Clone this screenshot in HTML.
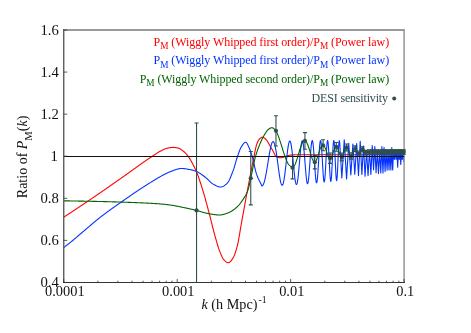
<!DOCTYPE html>
<html><head><meta charset="utf-8"><title>plot</title>
<style>
html,body{margin:0;padding:0;background:#fff;width:471px;height:333px;overflow:hidden;}
svg{display:block;font-family:"Liberation Serif",serif;will-change:transform;}
</style></head><body>
<svg width="471" height="333" viewBox="0 0 471 333">
<rect width="471" height="333" fill="#fff"/>
<defs><clipPath id="c"><rect x="63.75" y="30.0" width="340.35" height="252.45"/></clipPath><clipPath id="d"><rect x="63.75" y="30.0" width="343.35" height="252.45"/></clipPath></defs>
<g clip-path="url(#c)" fill="none" stroke-linejoin="round" stroke-linecap="round">
<path d="M63.75 217.20 L64.25 216.87 L64.75 216.54 L65.25 216.21 L65.75 215.88 L66.25 215.55 L66.75 215.22 L67.25 214.89 L67.75 214.56 L68.25 214.23 L68.75 213.90 L69.25 213.57 L69.75 213.25 L70.25 212.92 L70.75 212.59 L71.25 212.26 L71.75 211.93 L72.25 211.60 L72.75 211.27 L73.25 210.94 L73.75 210.61 L74.25 210.28 L74.75 209.95 L75.25 209.62 L75.75 209.29 L76.25 208.96 L76.75 208.63 L77.25 208.30 L77.75 207.97 L78.25 207.64 L78.75 207.31 L79.25 206.98 L79.75 206.65 L80.25 206.32 L80.75 205.99 L81.25 205.65 L81.75 205.32 L82.25 204.99 L82.75 204.66 L83.25 204.32 L83.75 203.99 L84.25 203.65 L84.75 203.32 L85.25 202.98 L85.75 202.65 L86.25 202.31 L86.75 201.97 L87.25 201.64 L87.75 201.30 L88.25 200.96 L88.75 200.62 L89.25 200.28 L89.75 199.94 L90.25 199.60 L90.75 199.26 L91.25 198.92 L91.75 198.58 L92.25 198.24 L92.75 197.90 L93.25 197.56 L93.75 197.22 L94.25 196.87 L94.75 196.53 L95.25 196.19 L95.75 195.85 L96.25 195.50 L96.75 195.16 L97.25 194.82 L97.75 194.47 L98.25 194.13 L98.75 193.78 L99.25 193.44 L99.75 193.09 L100.25 192.75 L100.75 192.40 L101.25 192.06 L101.75 191.71 L102.25 191.36 L102.75 191.02 L103.25 190.67 L103.75 190.33 L104.25 189.98 L104.75 189.63 L105.25 189.28 L105.75 188.94 L106.25 188.59 L106.75 188.24 L107.25 187.89 L107.75 187.55 L108.25 187.20 L108.75 186.85 L109.25 186.50 L109.75 186.15 L110.25 185.81 L110.75 185.46 L111.25 185.11 L111.75 184.76 L112.25 184.41 L112.75 184.06 L113.25 183.71 L113.75 183.36 L114.25 183.02 L114.75 182.67 L115.25 182.32 L115.75 181.97 L116.25 181.62 L116.75 181.27 L117.25 180.92 L117.75 180.57 L118.25 180.22 L118.75 179.87 L119.25 179.52 L119.75 179.17 L120.25 178.83 L120.75 178.48 L121.25 178.12 L121.75 177.77 L122.25 177.42 L122.75 177.07 L123.25 176.71 L123.75 176.36 L124.25 176.00 L124.75 175.64 L125.25 175.29 L125.75 174.93 L126.25 174.57 L126.75 174.21 L127.25 173.86 L127.75 173.50 L128.25 173.14 L128.75 172.78 L129.25 172.42 L129.75 172.06 L130.25 171.70 L130.75 171.34 L131.25 170.97 L131.75 170.61 L132.25 170.25 L132.75 169.89 L133.25 169.53 L133.75 169.17 L134.25 168.81 L134.75 168.45 L135.25 168.09 L135.75 167.73 L136.25 167.37 L136.75 167.01 L137.25 166.65 L137.75 166.29 L138.25 165.94 L138.75 165.58 L139.25 165.22 L139.75 164.87 L140.25 164.51 L140.75 164.16 L141.25 163.80 L141.75 163.45 L142.25 163.10 L142.75 162.74 L143.25 162.39 L143.75 162.04 L144.25 161.69 L144.75 161.35 L145.25 161.00 L145.75 160.65 L146.25 160.31 L146.75 159.97 L147.25 159.62 L147.75 159.28 L148.25 158.94 L148.75 158.60 L149.25 158.27 L149.75 157.93 L150.25 157.60 L150.75 157.26 L151.25 156.93 L151.75 156.60 L152.25 156.27 L152.75 155.94 L153.25 155.60 L153.75 155.27 L154.25 154.94 L154.75 154.60 L155.25 154.28 L155.75 153.95 L156.25 153.63 L156.75 153.31 L157.25 153.00 L157.75 152.69 L158.25 152.39 L158.75 152.09 L159.25 151.81 L159.75 151.53 L160.25 151.27 L160.75 151.00 L161.25 150.73 L161.75 150.46 L162.25 150.20 L162.75 149.95 L163.25 149.70 L163.75 149.47 L164.25 149.24 L164.75 149.04 L165.25 148.85 L165.75 148.68 L166.25 148.53 L166.75 148.38 L167.25 148.25 L167.75 148.12 L168.25 148.01 L168.75 147.90 L169.25 147.81 L169.75 147.73 L170.25 147.67 L170.75 147.61 L171.25 147.55 L171.75 147.49 L172.25 147.45 L172.75 147.42 L173.25 147.40 L173.75 147.41 L174.25 147.43 L174.75 147.47 L175.25 147.53 L175.75 147.60 L176.25 147.67 L176.75 147.76 L177.25 147.85 L177.75 147.98 L178.25 148.14 L178.75 148.34 L179.25 148.55 L179.75 148.78 L180.25 149.02 L180.75 149.30 L181.25 149.61 L181.75 149.95 L182.25 150.32 L182.75 150.70 L183.25 151.11 L183.75 151.54 L184.25 151.98 L184.75 152.43 L185.25 152.91 L185.75 153.42 L186.25 153.97 L186.75 154.54 L187.25 155.15 L187.75 155.78 L188.25 156.43 L188.75 157.13 L189.25 157.87 L189.75 158.66 L190.25 159.48 L190.75 160.34 L191.25 161.22 L191.75 162.12 L192.25 163.04 L192.75 163.96 L193.25 164.91 L193.75 165.88 L194.25 166.87 L194.75 167.90 L195.25 168.96 L195.75 170.07 L196.25 171.21 L196.75 172.41 L197.25 173.67 L197.75 175.00 L198.25 176.38 L198.75 177.81 L199.25 179.27 L199.75 180.75 L200.25 182.25 L200.75 183.76 L201.25 185.30 L201.75 186.87 L202.25 188.48 L202.75 190.11 L203.25 191.78 L203.75 193.46 L204.25 195.17 L204.75 196.91 L205.25 198.68 L205.75 200.49 L206.25 202.31 L206.75 204.16 L207.25 206.02 L207.75 207.90 L208.25 209.79 L208.75 211.68 L209.25 213.57 L209.75 215.50 L210.25 217.47 L210.75 219.46 L211.25 221.47 L211.75 223.49 L212.25 225.51 L212.75 227.50 L213.25 229.47 L213.75 231.41 L214.25 233.29 L214.75 235.11 L215.25 236.88 L215.75 238.64 L216.25 240.39 L216.75 242.13 L217.25 243.83 L217.75 245.49 L218.25 247.08 L218.75 248.61 L219.25 250.04 L219.75 251.37 L220.25 252.61 L220.75 253.84 L221.25 255.05 L221.75 256.20 L222.25 257.28 L222.75 258.25 L223.25 259.08 L223.75 259.74 L224.25 260.23 L224.75 260.69 L225.25 261.12 L225.75 261.52 L226.25 261.87 L226.75 262.18 L227.25 262.42 L227.75 262.60 L228.25 262.69 L228.75 262.68 L229.25 262.51 L229.75 262.20 L230.25 261.76 L230.75 261.21 L231.25 260.58 L231.75 259.88 L232.25 259.14 L232.75 258.38 L233.25 257.59 L233.75 256.64 L234.25 255.51 L234.75 254.23 L235.25 252.81 L235.75 251.27 L236.25 249.62 L236.75 247.89 L237.25 246.06 L237.75 243.93 L238.25 241.52 L238.75 238.89 L239.25 236.09 L239.75 233.17 L240.25 230.19 L240.75 227.19 L241.25 224.24 L241.75 221.38 L242.25 218.64 L242.75 215.91 L243.25 213.17 L243.75 210.42 L244.25 207.67 L244.75 204.92 L245.25 202.17 L245.75 199.43 L246.25 196.71 L246.75 194.01 L247.25 191.33 L247.75 188.67 L248.25 186.02 L248.75 183.37 L249.25 180.73 L249.75 178.09 L250.25 175.47 L250.75 172.86 L251.25 170.27 L251.75 167.70 L252.25 165.16 L252.75 162.64 L253.25 160.16 L253.75 157.71 L254.25 155.27 L254.75 152.69 L255.25 150.13 L255.75 147.76 L256.25 145.78 L256.75 144.31 L257.25 143.00 L257.75 141.82 L258.25 140.79 L258.75 139.93 L259.25 139.26 L259.75 138.77 L260.25 138.33 L260.75 137.93 L261.25 137.60 L261.75 137.35 L262.25 137.22 L262.75 137.22 L263.25 137.35 L263.75 137.59 L264.25 137.93 L264.75 138.33 L265.25 138.78 L265.75 139.26 L266.25 139.75 L266.75 140.30 L267.25 140.98 L267.75 141.78 L268.25 142.64 L268.75 143.55 L269.25 144.47 L269.75 145.37 L270.25 146.22 L270.75 147.08 L271.25 147.95 L271.75 148.83 L272.25 149.72 L272.75 150.62 L273.25 151.51 L273.75 152.41 L274.25 153.40 L274.75 154.52 L275.25 155.55 L275.75 156.30 L276.25 156.63 L276.75 156.88 L277.25 157.10 L277.75 157.29 L278.25 157.46 L278.75 157.59 L279.25 157.69 L279.75 157.76 L280.25 157.80 L280.75 157.79 L281.25 157.74 L281.75 157.65 L282.25 157.52 L282.75 157.37 L283.25 157.20 L283.75 157.02 L284.25 156.84 L284.75 156.68 L285.25 156.52 L285.75 156.35 L286.25 156.17 L286.75 155.99 L287.25 155.82 L287.75 155.67 L288.25 155.54 L288.75 155.41 L289.25 155.29 L289.75 155.18 L290.25 155.09 L290.75 155.02 L291.25 154.98 L291.75 154.94 L292.25 154.90 L292.75 154.87 L293.25 154.85 L293.75 154.82 L294.25 154.81 L294.75 154.80 L295.25 154.80 L295.75 154.80 L296.25 154.80 L296.75 154.80 L297.25 154.80 L297.75 154.80 L298.25 154.80 L298.75 154.80 L299.25 154.80 L299.75 154.80 L300.25 154.80 L300.75 154.80 L301.25 154.80 L301.75 154.80 L302.25 154.80 L302.75 154.80 L303.25 154.80 L303.75 154.80 L304.25 154.80 L304.75 154.80 L305.25 154.80 L305.75 154.80 L306.25 154.80 L306.75 154.80 L307.25 154.80 L307.75 154.80 L308.25 154.80 L308.75 154.80 L309.25 154.80 L309.75 154.80 L310.25 154.80 L310.75 154.80 L311.25 154.80 L311.75 154.80 L312.25 154.80 L312.75 154.80 L313.25 154.80 L313.75 154.80 L314.25 154.80 L314.75 154.80 L315.25 154.80 L315.75 154.80 L316.25 154.80 L316.75 154.80 L317.25 154.80 L317.75 154.80 L318.25 154.80 L318.75 154.80 L319.25 154.80 L319.75 154.80 L320.25 154.80 L320.75 154.80 L321.25 154.80 L321.75 154.80 L322.25 154.80 L322.75 154.80 L323.25 154.80 L323.75 154.80 L324.25 154.80 L324.75 154.80 L325.25 154.80 L325.75 154.80 L326.25 154.80 L326.75 154.80 L327.25 154.80 L327.75 154.80 L328.25 154.80 L328.75 154.80 L329.25 154.80 L329.75 154.80 L330.25 154.80 L330.75 154.80 L331.25 154.80 L331.75 154.80 L332.25 154.80 L332.75 154.80 L333.25 154.80 L333.75 154.80 L334.25 154.80 L334.75 154.80 L335.25 154.80 L335.75 154.80 L336.25 154.80 L336.75 154.80 L337.25 154.80 L337.75 154.80 L338.25 154.80 L338.75 154.80 L339.25 154.80 L339.75 154.80 L340.25 154.80 L340.75 154.80 L341.25 154.80 L341.75 154.80 L342.25 154.80 L342.75 154.80 L343.25 154.80 L343.75 154.80 L344.25 154.80 L344.75 154.80 L345.25 154.80 L345.75 154.80 L346.25 154.80 L346.75 154.80 L347.25 154.80 L347.75 154.80 L348.25 154.80 L348.75 154.80 L349.25 154.80 L349.75 154.80 L350.25 154.80 L350.75 154.80 L351.25 154.80 L351.75 154.80 L352.25 154.80 L352.75 154.80 L353.25 154.80 L353.75 154.80 L354.25 154.80 L354.75 154.80 L355.25 154.80 L355.75 154.80 L356.25 154.80 L356.75 154.80 L357.25 154.80 L357.75 154.80 L358.25 154.80 L358.75 154.80 L359.25 154.80 L359.75 154.80 L360.25 154.80 L360.75 154.80 L361.25 154.80 L361.75 154.80 L362.25 154.80 L362.75 154.80 L363.25 154.80 L363.75 154.80 L364.25 154.80 L364.75 154.80 L365.25 154.80 L365.75 154.80 L366.25 154.80 L366.75 154.80 L367.25 154.80 L367.75 154.80 L368.25 154.80 L368.75 154.80 L369.25 154.80 L369.75 154.80 L370.25 154.80 L370.75 154.80 L371.25 154.80 L371.75 154.80 L372.25 154.80 L372.75 154.80 L373.25 154.80 L373.75 154.80 L374.25 154.80 L374.75 154.80 L375.25 154.80 L375.75 154.80 L376.25 154.80 L376.75 154.80 L377.25 154.80 L377.75 154.80 L378.25 154.80 L378.75 154.80 L379.25 154.80 L379.75 154.80 L380.25 154.80 L380.75 154.80 L381.25 154.80 L381.75 154.80 L382.25 154.80 L382.75 154.80 L383.25 154.80 L383.75 154.80 L384.25 154.80 L384.75 154.80 L385.25 154.80 L385.75 154.80 L386.25 154.80 L386.75 154.80 L387.25 154.80 L387.75 154.80 L388.25 154.80 L388.75 154.80 L389.25 154.80 L389.75 154.80 L390.25 154.80 L390.75 154.80 L391.25 154.80 L391.75 154.80 L392.25 154.80 L392.75 154.80 L393.25 154.80 L393.75 154.80 L394.25 154.80 L394.75 154.80 L395.25 154.80 L395.75 154.80 L396.25 154.80 L396.75 154.80 L397.25 154.80 L397.75 154.80 L398.25 154.80 L398.75 154.80 L399.25 154.80 L399.75 154.80 L400.25 154.80 L400.75 154.80 L401.25 154.80 L401.75 154.80 L402.25 154.80 L402.75 154.80 L403.25 154.80 L403.75 154.80" stroke="#ff0000" stroke-width="1.1"/>
<path d="M63.75 247.61 L64.25 247.22 L64.75 246.83 L65.25 246.44 L65.75 246.05 L66.25 245.66 L66.75 245.27 L67.25 244.88 L67.75 244.49 L68.25 244.10 L68.75 243.70 L69.25 243.31 L69.75 242.91 L70.25 242.50 L70.75 242.10 L71.25 241.69 L71.75 241.28 L72.25 240.86 L72.75 240.45 L73.25 240.03 L73.75 239.61 L74.25 239.19 L74.75 238.77 L75.25 238.35 L75.75 237.92 L76.25 237.50 L76.75 237.07 L77.25 236.64 L77.75 236.22 L78.25 235.79 L78.75 235.36 L79.25 234.93 L79.75 234.50 L80.25 234.07 L80.75 233.64 L81.25 233.21 L81.75 232.79 L82.25 232.36 L82.75 231.93 L83.25 231.50 L83.75 231.08 L84.25 230.65 L84.75 230.23 L85.25 229.81 L85.75 229.39 L86.25 228.97 L86.75 228.55 L87.25 228.12 L87.75 227.70 L88.25 227.27 L88.75 226.85 L89.25 226.42 L89.75 226.00 L90.25 225.57 L90.75 225.14 L91.25 224.72 L91.75 224.29 L92.25 223.87 L92.75 223.44 L93.25 223.02 L93.75 222.60 L94.25 222.18 L94.75 221.76 L95.25 221.34 L95.75 220.93 L96.25 220.51 L96.75 220.10 L97.25 219.69 L97.75 219.29 L98.25 218.88 L98.75 218.48 L99.25 218.08 L99.75 217.69 L100.25 217.29 L100.75 216.91 L101.25 216.52 L101.75 216.13 L102.25 215.75 L102.75 215.37 L103.25 214.99 L103.75 214.61 L104.25 214.24 L104.75 213.86 L105.25 213.49 L105.75 213.12 L106.25 212.75 L106.75 212.38 L107.25 212.01 L107.75 211.65 L108.25 211.28 L108.75 210.92 L109.25 210.56 L109.75 210.20 L110.25 209.84 L110.75 209.48 L111.25 209.12 L111.75 208.76 L112.25 208.41 L112.75 208.05 L113.25 207.70 L113.75 207.34 L114.25 206.99 L114.75 206.64 L115.25 206.28 L115.75 205.93 L116.25 205.58 L116.75 205.23 L117.25 204.88 L117.75 204.53 L118.25 204.18 L118.75 203.83 L119.25 203.48 L119.75 203.13 L120.25 202.78 L120.75 202.43 L121.25 202.08 L121.75 201.73 L122.25 201.38 L122.75 201.03 L123.25 200.68 L123.75 200.32 L124.25 199.97 L124.75 199.62 L125.25 199.27 L125.75 198.92 L126.25 198.57 L126.75 198.22 L127.25 197.87 L127.75 197.53 L128.25 197.18 L128.75 196.83 L129.25 196.48 L129.75 196.14 L130.25 195.79 L130.75 195.45 L131.25 195.10 L131.75 194.76 L132.25 194.42 L132.75 194.07 L133.25 193.73 L133.75 193.39 L134.25 193.05 L134.75 192.71 L135.25 192.37 L135.75 192.04 L136.25 191.70 L136.75 191.37 L137.25 191.03 L137.75 190.70 L138.25 190.37 L138.75 190.03 L139.25 189.70 L139.75 189.37 L140.25 189.05 L140.75 188.72 L141.25 188.39 L141.75 188.06 L142.25 187.74 L142.75 187.41 L143.25 187.09 L143.75 186.77 L144.25 186.45 L144.75 186.12 L145.25 185.80 L145.75 185.49 L146.25 185.17 L146.75 184.85 L147.25 184.53 L147.75 184.22 L148.25 183.90 L148.75 183.59 L149.25 183.28 L149.75 182.97 L150.25 182.65 L150.75 182.35 L151.25 182.03 L151.75 181.72 L152.25 181.41 L152.75 181.10 L153.25 180.79 L153.75 180.48 L154.25 180.17 L154.75 179.87 L155.25 179.56 L155.75 179.26 L156.25 178.96 L156.75 178.66 L157.25 178.36 L157.75 178.07 L158.25 177.78 L158.75 177.50 L159.25 177.21 L159.75 176.94 L160.25 176.66 L160.75 176.39 L161.25 176.11 L161.75 175.84 L162.25 175.56 L162.75 175.29 L163.25 175.01 L163.75 174.74 L164.25 174.47 L164.75 174.21 L165.25 173.95 L165.75 173.69 L166.25 173.44 L166.75 173.20 L167.25 172.96 L167.75 172.73 L168.25 172.50 L168.75 172.29 L169.25 172.09 L169.75 171.89 L170.25 171.71 L170.75 171.52 L171.25 171.33 L171.75 171.13 L172.25 170.94 L172.75 170.74 L173.25 170.54 L173.75 170.35 L174.25 170.16 L174.75 169.98 L175.25 169.80 L175.75 169.62 L176.25 169.46 L176.75 169.30 L177.25 169.16 L177.75 169.02 L178.25 168.90 L178.75 168.79 L179.25 168.70 L179.75 168.62 L180.25 168.56 L180.75 168.52 L181.25 168.50 L181.75 168.50 L182.25 168.51 L182.75 168.54 L183.25 168.57 L183.75 168.61 L184.25 168.66 L184.75 168.72 L185.25 168.78 L185.75 168.86 L186.25 168.93 L186.75 169.01 L187.25 169.10 L187.75 169.19 L188.25 169.28 L188.75 169.37 L189.25 169.46 L189.75 169.55 L190.25 169.65 L190.75 169.75 L191.25 169.86 L191.75 169.97 L192.25 170.10 L192.75 170.23 L193.25 170.38 L193.75 170.53 L194.25 170.69 L194.75 170.85 L195.25 171.03 L195.75 171.21 L196.25 171.40 L196.75 171.60 L197.25 171.82 L197.75 172.07 L198.25 172.33 L198.75 172.61 L199.25 172.90 L199.75 173.22 L200.25 173.54 L200.75 173.88 L201.25 174.23 L201.75 174.58 L202.25 174.95 L202.75 175.31 L203.25 175.69 L203.75 176.06 L204.25 176.44 L204.75 176.81 L205.25 177.19 L205.75 177.60 L206.25 178.03 L206.75 178.49 L207.25 178.97 L207.75 179.46 L208.25 179.95 L208.75 180.45 L209.25 180.94 L209.75 181.43 L210.25 181.90 L210.75 182.35 L211.25 182.78 L211.75 183.18 L212.25 183.54 L212.75 183.86 L213.25 184.14 L213.75 184.42 L214.25 184.70 L214.75 184.98 L215.25 185.25 L215.75 185.52 L216.25 185.77 L216.75 186.01 L217.25 186.23 L217.75 186.43 L218.25 186.61 L218.75 186.76 L219.25 186.87 L219.75 186.95 L220.25 186.99 L220.75 186.99 L221.25 186.94 L221.75 186.83 L222.25 186.67 L222.75 186.47 L223.25 186.23 L223.75 185.95 L224.25 185.64 L224.75 185.30 L225.25 184.93 L225.75 184.54 L226.25 184.14 L226.75 183.71 L227.25 183.26 L227.75 182.68 L228.25 181.95 L228.75 181.10 L229.25 180.14 L229.75 179.08 L230.25 177.94 L230.75 176.75 L231.25 175.50 L231.75 174.23 L232.25 172.93 L232.75 171.64 L233.25 170.34 L233.75 168.89 L234.25 167.30 L234.75 165.62 L235.25 163.89 L235.75 162.15 L236.25 160.42 L236.75 158.77 L237.25 157.22 L237.75 155.79 L238.25 154.35 L238.75 152.91 L239.25 151.51 L239.75 150.16 L240.25 148.93 L240.75 147.82 L241.25 146.89 L241.75 146.13 L242.25 145.40 L242.75 144.69 L243.25 144.01 L243.75 143.41 L244.25 142.91 L244.75 142.52 L245.25 142.27 L245.75 142.20 L246.25 142.44 L246.75 143.00 L247.25 143.82 L247.75 144.81 L248.25 145.89 L248.75 146.98 L249.25 148.03 L249.75 149.21 L250.25 150.52 L250.75 151.94 L251.25 153.45 L251.75 155.03 L252.25 156.67 L252.75 158.49 L253.25 160.53 L253.75 162.73 L254.25 165.00 L254.75 167.27 L255.25 169.44 L255.75 171.46 L256.25 173.23 L256.75 174.71 L257.25 176.05 L257.75 177.28 L258.25 178.44 L258.75 179.52 L259.25 180.56 L259.75 181.58 L260.25 182.57 L260.75 183.58 L261.25 184.60 L261.75 185.67 L261.90 186.00 L262.20 185.92 L262.50 185.72 L262.80 185.38 L263.10 184.92 L263.40 184.33 L263.70 183.62 L264.00 182.78 L264.30 181.82 L264.60 180.74 L264.90 179.54 L265.20 178.24 L265.50 176.84 L265.80 175.35 L266.10 173.77 L266.40 172.11 L266.70 170.38 L267.00 168.61 L267.30 166.78 L267.60 164.93 L267.90 163.05 L268.20 161.17 L268.50 159.30 L268.80 157.45 L269.10 155.63 L269.40 153.87 L269.70 152.17 L270.00 150.55 L270.30 149.03 L270.60 147.61 L270.90 146.31 L271.20 145.15 L271.50 144.14 L271.80 143.28 L272.10 142.59 L272.40 142.08 L272.70 141.75 L273.00 141.61 L273.30 141.67 L273.60 141.92 L273.90 142.38 L274.20 143.03 L274.50 143.88 L274.80 144.92 L275.10 146.14 L275.40 147.55 L275.70 149.11 L276.00 150.83 L276.30 152.69 L276.60 154.67 L276.90 156.75 L277.20 158.92 L277.50 161.14 L277.80 163.41 L278.10 165.69 L278.40 167.95 L278.70 170.18 L279.00 172.35 L279.30 174.43 L279.60 176.40 L279.90 178.23 L280.20 179.89 L280.50 181.36 L280.80 182.63 L281.10 183.67 L281.40 184.46 L281.70 184.99 L282.00 185.25 L282.30 185.24 L282.60 184.93 L282.90 184.34 L283.20 183.46 L283.50 182.31 L283.80 180.89 L284.10 179.22 L284.40 177.31 L284.70 175.19 L285.00 172.89 L285.30 170.44 L285.60 167.86 L285.90 165.19 L286.20 162.48 L286.50 159.76 L286.80 157.08 L287.10 154.48 L287.40 152.00 L287.70 149.67 L288.00 147.55 L288.30 145.68 L288.60 144.08 L288.90 142.78 L289.20 141.83 L289.50 141.23 L289.80 141.01 L290.10 141.17 L290.40 141.73 L290.70 142.67 L291.00 143.99 L291.30 145.67 L291.60 147.67 L291.90 149.98 L292.20 152.55 L292.50 155.33 L292.80 158.28 L293.10 161.33 L293.40 164.43 L293.70 167.51 L294.00 170.52 L294.30 173.37 L294.60 176.03 L294.90 178.41 L295.20 180.46 L295.50 182.14 L295.80 183.40 L296.10 184.20 L296.40 184.51 L296.70 184.33 L297.00 183.64 L297.30 182.45 L297.60 180.78 L297.90 178.67 L298.20 176.15 L298.50 173.28 L298.80 170.13 L299.10 166.77 L299.40 163.29 L299.70 159.76 L300.00 156.29 L300.30 152.97 L300.60 149.88 L300.90 147.13 L301.20 144.78 L301.50 142.91 L301.80 141.58 L302.10 140.84 L302.40 140.72 L302.70 141.24 L303.00 142.39 L303.30 144.14 L303.60 146.46 L303.90 149.27 L304.20 152.51 L304.50 156.08 L304.80 159.86 L305.10 163.73 L305.40 167.59 L305.70 171.28 L306.00 174.69 L306.30 177.69 L306.60 180.18 L306.90 182.06 L307.20 183.24 L307.50 183.68 L307.80 183.35 L308.10 182.24 L308.40 180.38 L308.70 177.82 L309.00 174.66 L309.30 170.99 L309.60 166.96 L309.90 162.71 L310.20 158.42 L310.50 154.24 L310.80 150.37 L311.10 146.95 L311.40 144.14 L311.70 142.07 L312.00 140.84 L312.30 140.51 L312.60 141.12 L312.90 142.65 L313.20 145.04 L313.50 148.21 L313.80 152.03 L314.10 156.31 L314.40 160.87 L314.70 165.50 L315.00 169.96 L315.30 174.05 L315.60 177.55 L315.90 180.27 L316.20 182.06 L316.50 182.82 L316.80 182.49 L317.10 181.06 L317.40 178.59 L317.70 175.20 L318.00 171.06 L318.30 166.37 L318.60 161.40 L318.90 156.41 L319.20 151.69 L319.50 147.53 L319.80 144.16 L320.10 141.81 L320.40 140.62 L320.70 140.70 L321.00 142.06 L321.30 144.62 L321.60 148.26 L321.90 152.75 L322.20 157.82 L322.50 163.15 L322.80 168.38 L323.10 173.17 L323.40 177.18 L323.70 180.12 L324.00 181.77 L324.30 181.99 L324.60 180.74 L324.90 178.08 L325.20 174.19 L325.50 169.32 L325.80 163.83 L326.10 158.12 L326.40 152.61 L326.70 147.75 L327.00 143.91 L327.30 141.42 L327.60 140.50 L327.90 141.25 L328.20 143.64 L328.50 147.49 L328.80 152.50 L329.10 158.26 L329.40 164.29 L329.70 170.06 L330.00 175.06 L330.30 178.82 L330.60 180.98 L330.90 181.32 L331.20 179.78 L331.50 176.45 L331.80 171.64 L332.10 165.78 L332.40 159.41 L332.70 153.16 L333.00 147.65 L333.30 143.45 L333.60 141.01 L333.90 140.60 L334.20 142.31 L334.50 145.98 L334.80 151.25 L335.10 157.58 L335.40 164.27 L335.70 170.60 L336.00 175.83 L336.30 179.35 L336.60 180.73 L336.90 179.77 L337.20 176.56 L337.50 171.43 L337.80 164.98 L338.10 157.97 L338.40 151.27 L338.70 145.71 L339.00 142.01 L339.30 140.67 L339.60 141.91 L339.90 145.59 L340.00 147.29 L341.84 178.07 L344.25 139.85 L346.55 178.95 L348.75 143.21 L350.85 174.94 L352.87 144.05 L354.81 174.34 L356.67 143.64 L358.47 175.59 L360.20 141.27 L361.87 174.40 L363.49 146.00 L365.06 176.32 L366.58 151.00 L368.05 175.68 L369.48 151.00 L370.87 174.55 L372.23 145.50 L373.54 169.71 L374.82 146.50 L376.07 172.65 L377.29 151.00 L378.48 173.54 L379.64 151.00 L380.78 172.90 L381.88 146.50 L382.97 172.90 L384.03 147.50 L385.07 171.41 L386.09 151.00 L387.08 170.25 L388.06 151.00 L389.02 170.00 L389.96 151.00 L390.88 170.00 L391.78 147.50 L392.67 170.00 L393.54 151.00 L394.40 159.50 L395.25 151.00 L396.07 159.50 L396.89 151.00 L397.69 167.30 L398.48 151.00 L399.26 159.50 L400.02 151.00 L400.77 164.50 L401.52 151.00 L402.25 159.50 L402.97 151.00 L403.68 161.50 L404.38 151.00 L405.07 159.50" stroke="#0433ff" stroke-width="1.1"/>
<path d="M63.75 200.81 L64.15 200.82 L64.55 200.83 L64.95 200.84 L65.35 200.84 L65.75 200.85 L66.15 200.86 L66.55 200.87 L66.95 200.87 L67.35 200.88 L67.75 200.89 L68.15 200.89 L68.55 200.90 L68.95 200.91 L69.35 200.92 L69.75 200.92 L70.15 200.93 L70.55 200.94 L70.95 200.94 L71.35 200.95 L71.75 200.96 L72.15 200.97 L72.55 200.97 L72.95 200.98 L73.35 200.99 L73.75 200.99 L74.15 201.00 L74.55 201.01 L74.95 201.01 L75.35 201.02 L75.75 201.03 L76.15 201.04 L76.55 201.04 L76.95 201.05 L77.35 201.06 L77.75 201.06 L78.15 201.07 L78.55 201.08 L78.95 201.08 L79.35 201.09 L79.75 201.10 L80.15 201.11 L80.55 201.11 L80.95 201.12 L81.35 201.13 L81.75 201.13 L82.15 201.14 L82.55 201.15 L82.95 201.16 L83.35 201.16 L83.75 201.17 L84.15 201.18 L84.55 201.18 L84.95 201.19 L85.35 201.20 L85.75 201.21 L86.15 201.21 L86.55 201.22 L86.95 201.23 L87.35 201.24 L87.75 201.24 L88.15 201.25 L88.55 201.26 L88.95 201.27 L89.35 201.27 L89.75 201.28 L90.15 201.29 L90.55 201.30 L90.95 201.31 L91.35 201.31 L91.75 201.32 L92.15 201.33 L92.55 201.34 L92.95 201.35 L93.35 201.35 L93.75 201.36 L94.15 201.37 L94.55 201.38 L94.95 201.39 L95.35 201.40 L95.75 201.40 L96.15 201.41 L96.55 201.42 L96.95 201.43 L97.35 201.44 L97.75 201.45 L98.15 201.46 L98.55 201.47 L98.95 201.48 L99.35 201.48 L99.75 201.49 L100.15 201.50 L100.55 201.51 L100.95 201.52 L101.35 201.53 L101.75 201.54 L102.15 201.55 L102.55 201.56 L102.95 201.57 L103.35 201.58 L103.75 201.59 L104.15 201.60 L104.55 201.61 L104.95 201.62 L105.35 201.63 L105.75 201.64 L106.15 201.65 L106.55 201.66 L106.95 201.67 L107.35 201.68 L107.75 201.69 L108.15 201.70 L108.55 201.71 L108.95 201.73 L109.35 201.74 L109.75 201.75 L110.15 201.76 L110.55 201.77 L110.95 201.78 L111.35 201.79 L111.75 201.80 L112.15 201.81 L112.55 201.83 L112.95 201.84 L113.35 201.85 L113.75 201.86 L114.15 201.87 L114.55 201.88 L114.95 201.90 L115.35 201.91 L115.75 201.92 L116.15 201.93 L116.55 201.94 L116.95 201.96 L117.35 201.97 L117.75 201.98 L118.15 201.99 L118.55 202.01 L118.95 202.02 L119.35 202.03 L119.75 202.04 L120.15 202.06 L120.55 202.07 L120.95 202.08 L121.35 202.10 L121.75 202.11 L122.15 202.12 L122.55 202.14 L122.95 202.15 L123.35 202.16 L123.75 202.18 L124.15 202.19 L124.55 202.20 L124.95 202.22 L125.35 202.23 L125.75 202.25 L126.15 202.26 L126.55 202.27 L126.95 202.29 L127.35 202.30 L127.75 202.32 L128.15 202.33 L128.55 202.35 L128.95 202.36 L129.35 202.38 L129.75 202.39 L130.15 202.41 L130.55 202.42 L130.95 202.44 L131.35 202.45 L131.75 202.47 L132.15 202.48 L132.55 202.50 L132.95 202.51 L133.35 202.53 L133.75 202.54 L134.15 202.56 L134.55 202.57 L134.95 202.59 L135.35 202.60 L135.75 202.62 L136.15 202.64 L136.55 202.65 L136.95 202.67 L137.35 202.68 L137.75 202.70 L138.15 202.72 L138.55 202.73 L138.95 202.75 L139.35 202.77 L139.75 202.78 L140.15 202.80 L140.55 202.82 L140.95 202.83 L141.35 202.85 L141.75 202.87 L142.15 202.89 L142.55 202.90 L142.95 202.92 L143.35 202.94 L143.75 202.96 L144.15 202.98 L144.55 202.99 L144.95 203.01 L145.35 203.03 L145.75 203.05 L146.15 203.07 L146.55 203.09 L146.95 203.11 L147.35 203.13 L147.75 203.15 L148.15 203.17 L148.55 203.19 L148.95 203.21 L149.35 203.23 L149.75 203.26 L150.15 203.28 L150.55 203.30 L150.95 203.32 L151.35 203.34 L151.75 203.37 L152.15 203.39 L152.55 203.41 L152.95 203.44 L153.35 203.46 L153.75 203.48 L154.15 203.51 L154.55 203.53 L154.95 203.56 L155.35 203.58 L155.75 203.61 L156.15 203.63 L156.55 203.66 L156.95 203.69 L157.35 203.71 L157.75 203.74 L158.15 203.77 L158.55 203.80 L158.95 203.82 L159.35 203.85 L159.75 203.88 L160.15 203.91 L160.55 203.94 L160.95 203.97 L161.35 204.01 L161.75 204.04 L162.15 204.08 L162.55 204.12 L162.95 204.15 L163.35 204.19 L163.75 204.24 L164.15 204.28 L164.55 204.32 L164.95 204.37 L165.35 204.41 L165.75 204.46 L166.15 204.51 L166.55 204.55 L166.95 204.60 L167.35 204.65 L167.75 204.70 L168.15 204.75 L168.55 204.81 L168.95 204.86 L169.35 204.91 L169.75 204.97 L170.15 205.02 L170.55 205.08 L170.95 205.13 L171.35 205.19 L171.75 205.25 L172.15 205.32 L172.55 205.38 L172.95 205.45 L173.35 205.51 L173.75 205.58 L174.15 205.65 L174.55 205.72 L174.95 205.79 L175.35 205.86 L175.75 205.94 L176.15 206.01 L176.55 206.09 L176.95 206.16 L177.35 206.24 L177.75 206.32 L178.15 206.40 L178.55 206.48 L178.95 206.55 L179.35 206.64 L179.75 206.72 L180.15 206.80 L180.55 206.88 L180.95 206.96 L181.35 207.04 L181.75 207.13 L182.15 207.21 L182.55 207.29 L182.95 207.38 L183.35 207.46 L183.75 207.54 L184.15 207.62 L184.55 207.71 L184.95 207.79 L185.35 207.87 L185.75 207.96 L186.15 208.04 L186.55 208.12 L186.95 208.21 L187.35 208.30 L187.75 208.38 L188.15 208.47 L188.55 208.56 L188.95 208.65 L189.35 208.74 L189.75 208.83 L190.15 208.92 L190.55 209.01 L190.95 209.10 L191.35 209.19 L191.75 209.29 L192.15 209.38 L192.55 209.47 L192.95 209.57 L193.35 209.66 L193.75 209.76 L194.15 209.85 L194.55 209.95 L194.95 210.05 L195.35 210.14 L195.75 210.24 L196.15 210.34 L196.55 210.44 L196.95 210.54 L197.35 210.64 L197.75 210.75 L198.15 210.86 L198.55 210.97 L198.95 211.09 L199.35 211.21 L199.75 211.32 L200.15 211.44 L200.55 211.56 L200.95 211.68 L201.35 211.80 L201.75 211.92 L202.15 212.04 L202.55 212.16 L202.95 212.27 L203.35 212.39 L203.75 212.50 L204.15 212.61 L204.55 212.72 L204.95 212.82 L205.35 212.93 L205.75 213.03 L206.15 213.12 L206.55 213.21 L206.95 213.30 L207.35 213.38 L207.75 213.46 L208.15 213.53 L208.55 213.60 L208.95 213.67 L209.35 213.74 L209.75 213.81 L210.15 213.89 L210.55 213.96 L210.95 214.03 L211.35 214.10 L211.75 214.17 L212.15 214.24 L212.55 214.31 L212.95 214.38 L213.35 214.44 L213.75 214.50 L214.15 214.56 L214.55 214.62 L214.95 214.67 L215.35 214.72 L215.75 214.77 L216.15 214.81 L216.55 214.85 L216.95 214.89 L217.35 214.92 L217.75 214.95 L218.15 214.97 L218.55 214.98 L218.95 214.99 L219.35 215.00 L219.75 215.00 L220.15 214.98 L220.55 214.96 L220.95 214.92 L221.35 214.86 L221.75 214.80 L222.15 214.73 L222.55 214.65 L222.95 214.56 L223.35 214.46 L223.75 214.35 L224.15 214.24 L224.55 214.12 L224.95 213.99 L225.35 213.86 L225.75 213.72 L226.15 213.58 L226.55 213.43 L226.95 213.29 L227.35 213.14 L227.75 212.98 L228.15 212.83 L228.55 212.67 L228.95 212.52 L229.35 212.36 L229.75 212.18 L230.15 211.99 L230.55 211.79 L230.95 211.57 L231.35 211.34 L231.75 211.09 L232.15 210.84 L232.55 210.57 L232.95 210.29 L233.35 210.00 L233.75 209.70 L234.15 209.39 L234.55 209.07 L234.95 208.75 L235.35 208.41 L235.75 208.07 L236.15 207.72 L236.55 207.37 L236.95 207.01 L237.35 206.64 L237.75 206.26 L238.15 205.86 L238.55 205.44 L238.95 205.00 L239.35 204.53 L239.75 204.05 L240.15 203.54 L240.55 203.02 L240.95 202.48 L241.35 201.93 L241.75 201.36 L242.15 200.78 L242.55 200.18 L242.95 199.58 L243.35 198.97 L243.75 198.36 L244.15 197.74 L244.55 197.10 L244.95 196.45 L245.35 195.77 L245.75 195.05 L246.15 194.29 L246.55 193.47 L246.95 192.60 L247.35 191.67 L247.75 190.67 L248.15 189.57 L248.55 188.20 L248.95 186.59 L249.35 184.81 L249.75 182.94 L250.15 181.05 L250.55 179.22 L250.95 177.43 L251.35 175.56 L251.75 173.63 L252.15 171.67 L252.55 169.69 L252.95 167.71 L253.35 165.75 L253.75 163.84 L254.15 161.99 L254.55 160.22 L254.95 158.57 L255.35 157.04 L255.75 155.64 L256.15 154.31 L256.55 153.04 L256.95 151.83 L257.35 150.67 L257.75 149.55 L258.15 148.47 L258.55 147.41 L258.95 146.39 L259.35 145.38 L259.75 144.38 L260.15 143.41 L260.55 142.47 L260.95 141.56 L261.35 140.68 L261.75 139.83 L262.15 139.00 L262.55 138.20 L262.95 137.42 L263.35 136.65 L263.75 135.91 L264.15 135.19 L264.55 134.50 L264.95 133.84 L265.35 133.22 L265.75 132.64 L266.15 132.05 L266.55 131.48 L266.95 130.93 L267.35 130.43 L267.75 129.97 L268.15 129.58 L268.55 129.26 L268.95 128.98 L269.35 128.71 L269.75 128.45 L270.15 128.21 L270.55 128.01 L270.95 127.85 L271.35 127.74 L271.75 127.70 L272.15 127.73 L272.55 127.85 L272.95 128.03 L273.35 128.27 L273.75 128.56 L274.15 128.90 L274.55 129.26 L274.95 129.65 L275.35 130.05 L275.75 130.55 L276.15 131.20 L276.55 131.95 L276.95 132.80 L277.35 133.72 L277.75 134.67 L278.15 135.64 L278.55 136.62 L278.95 137.71 L279.35 138.87 L279.75 140.10 L280.15 141.36 L280.55 142.64 L280.95 143.91 L281.35 145.15 L281.75 146.40 L282.15 147.69 L282.55 149.00 L282.95 150.31 L283.35 151.61 L283.75 152.88 L284.15 154.11 L284.55 155.28 L284.95 156.37 L285.35 157.41 L285.75 158.47 L286.15 159.51 L286.55 160.51 L286.95 161.47 L287.35 162.35 L287.75 163.14 L288.15 163.82 L288.55 164.36 L288.95 164.81 L289.35 165.21 L289.75 165.57 L290.15 165.89 L290.55 166.19 L290.95 166.48 L291.35 166.76 L291.75 167.04 L292.15 167.34 L292.54 167.65 L292.84 167.52 L293.14 167.32 L293.44 167.05 L293.74 166.71 L294.04 166.30 L294.34 165.83 L294.64 165.29 L294.94 164.69 L295.24 164.03 L295.54 163.32 L295.84 162.55 L296.14 161.74 L296.44 160.88 L296.74 159.98 L297.04 159.05 L297.34 158.09 L297.64 157.10 L297.94 156.09 L298.24 155.07 L298.54 154.05 L298.84 153.02 L299.14 151.99 L299.44 150.98 L299.74 149.98 L300.04 149.01 L300.34 148.06 L300.64 147.16 L300.94 146.29 L301.24 145.47 L301.54 144.70 L301.84 144.00 L302.14 143.35 L302.44 142.77 L302.74 142.26 L303.04 141.83 L303.34 141.47 L303.64 141.20 L303.94 141.01 L304.24 140.90 L304.54 140.87 L304.84 140.93 L305.14 141.00 L305.44 141.12 L305.74 141.33 L306.04 141.62 L306.34 141.99 L306.64 142.45 L306.94 142.98 L307.24 143.58 L307.54 144.25 L307.84 144.99 L308.14 145.79 L308.44 146.64 L308.74 147.54 L309.04 148.48 L309.34 149.45 L309.64 150.44 L309.94 151.45 L310.24 152.47 L310.54 153.49 L310.84 154.49 L311.14 155.47 L311.44 156.42 L311.74 157.32 L312.04 158.18 L312.34 158.97 L312.64 159.70 L312.94 160.35 L313.24 160.92 L313.54 161.39 L313.84 161.76 L314.14 162.04 L314.44 162.20 L314.74 162.25 L315.04 162.13 L315.34 161.88 L315.64 161.52 L315.94 161.05 L316.24 160.49 L316.54 159.84 L316.84 159.10 L317.14 158.29 L317.44 157.43 L317.74 156.51 L318.04 155.55 L318.34 154.57 L318.64 153.58 L318.94 152.59 L319.24 151.61 L319.54 150.66 L319.84 149.76 L320.14 148.90 L320.44 148.12 L320.74 147.41 L321.04 146.78 L321.34 146.25 L321.64 145.82 L321.94 145.50 L322.24 145.28 L322.54 145.17 L322.84 145.18 L323.14 145.26 L323.44 145.37 L323.74 145.59 L324.04 145.91 L324.34 146.33 L324.64 146.84 L324.94 147.44 L325.24 148.11 L325.54 148.85 L325.84 149.63 L326.14 150.46 L326.44 151.31 L326.74 152.18 L327.04 153.04 L327.34 153.87 L327.64 154.67 L327.94 155.42 L328.24 156.11 L328.54 156.71 L328.84 157.22 L329.14 157.63 L329.44 157.92 L329.74 158.10 L330.04 158.15 L330.34 158.08 L330.64 157.87 L330.94 157.55 L331.24 157.11 L331.54 156.56 L331.84 155.92 L332.14 155.21 L332.44 154.42 L332.74 153.60 L333.04 152.74 L333.34 151.88 L333.64 151.02 L333.94 150.20 L334.24 149.44 L334.54 148.74 L334.84 148.14 L335.14 147.64 L335.44 147.25 L335.74 146.99 L336.04 146.87 L336.34 146.87 L336.64 146.99 L336.94 147.25 L337.24 147.63 L337.54 148.14 L337.84 148.75 L338.14 149.46 L338.44 150.24 L338.74 151.08 L339.04 151.94 L339.34 152.80 L339.64 153.65 L339.94 154.44 L340.24 155.16 L340.54 155.79 L340.84 156.29 L341.14 156.66 L341.44 156.89 L341.74 156.95 L342.04 156.86 L342.34 156.60 L342.64 156.19 L342.94 155.64 L343.24 154.97 L343.54 154.20 L343.84 153.35 L344.14 152.45 L344.44 151.55 L344.74 150.66 L345.04 149.83 L345.34 149.08 L345.64 148.45 L345.94 147.95 L346.24 147.62 L346.54 147.46 L346.84 147.51 L347.14 147.74 L347.44 148.15 L347.74 148.72 L348.04 149.41 L348.34 150.21 L348.64 151.08 L348.94 151.97 L349.24 152.86 L349.54 153.69 L349.84 154.44 L350.14 155.07 L350.44 155.54 L350.74 155.85 L351.04 155.97 L351.34 155.90 L351.64 155.66 L351.94 155.24 L352.24 154.66 L352.54 153.97 L352.84 153.19 L353.14 152.37 L353.44 151.55 L353.74 150.77 L354.04 150.07 L354.34 149.49 L354.64 149.07 L354.94 148.82 L355.24 148.75 L355.54 148.95 L355.84 149.31 L356.14 149.81 L356.44 150.41 L356.74 151.06 L357.04 151.72 L357.34 152.34 L357.64 152.88 L357.94 153.32 L358.24 153.62 L358.54 153.78 L358.84 153.80 L359.14 153.76 L359.44 153.76 L359.74 153.63 L360.04 153.36 L360.34 152.96 L360.64 152.46 L360.94 151.87 L361.24 151.25 L361.54 150.63 L361.84 150.07 L362.14 149.62 L362.44 149.33 L362.74 149.39 L363.04 149.78 L363.34 150.31 L363.64 150.90 L363.94 151.50 L364.24 152.04 L364.54 152.48 L364.84 152.77 L365.14 152.90 L365.44 152.90 L365.74 152.77 L366.04 152.64 L366.34 152.53 L366.64 152.40 L366.94 152.25 L367.24 152.12 L367.54 152.02 L367.84 151.96 L368.14 151.94 L368.44 151.96 L368.74 152.01 L369.04 152.06 L369.34 152.06 L369.64 152.06 L369.94 152.06 L370.24 152.06 L370.54 152.06 L370.84 152.06 L371.14 152.06 L371.44 152.06 L371.74 152.06 L372.04 152.06 L372.34 152.06 L372.64 152.06 L372.94 152.06 L373.24 152.06 L373.54 152.06 L373.84 152.06 L374.14 152.06 L374.44 152.06 L374.74 152.06 L375.04 152.06 L375.34 152.06 L375.64 152.06 L375.94 152.06 L376.24 152.06 L376.54 152.06 L376.84 152.06 L377.14 152.06 L377.44 152.06 L377.74 152.06 L378.04 152.06 L378.34 152.06 L378.64 152.06 L378.94 152.06 L379.24 152.06 L379.54 152.06 L379.84 152.06 L380.14 152.06 L380.44 152.06 L380.74 152.06 L381.04 152.06 L381.34 152.06 L381.64 152.06 L381.94 152.06 L382.24 152.06 L382.54 152.06 L382.84 152.06 L383.14 152.06 L383.44 152.06 L383.74 152.06 L384.04 152.06 L384.34 152.06 L384.64 152.06 L384.94 152.06 L385.24 152.06 L385.54 152.06 L385.84 152.06 L386.14 152.06 L386.44 152.06 L386.74 152.06 L387.04 152.06 L387.34 152.06 L387.64 152.06 L387.94 152.06 L388.24 152.06 L388.54 152.06 L388.84 152.06 L389.14 152.06 L389.44 152.06 L389.74 152.06 L390.04 152.06 L390.34 152.06 L390.64 152.06 L390.94 152.06 L391.24 152.06 L391.54 152.06 L391.84 152.06 L392.14 152.06 L392.44 152.06 L392.74 152.06 L393.04 152.06 L393.34 152.06 L393.64 152.06 L393.94 152.06 L394.24 152.06 L394.54 152.06 L394.84 152.06 L395.14 152.06 L395.44 152.06 L395.74 152.06 L396.04 152.06 L396.34 152.06 L396.64 152.06 L396.94 152.06 L397.24 152.06 L397.54 152.06 L397.84 152.06 L398.14 152.06 L398.44 152.06 L398.74 152.06 L399.04 152.06 L399.34 152.06 L399.64 152.06 L399.94 152.06 L400.24 152.06 L400.54 152.06 L400.84 152.06 L401.14 152.06 L401.44 152.06 L401.74 152.06 L402.04 152.06 L402.34 152.06 L402.64 152.06 L402.94 152.06 L403.24 152.06 L403.54 152.06 L403.84 152.06 L404.14 152.06 L404.44 152.06 L404.74 152.06 L405.04 152.06" stroke="#006400" stroke-width="1.1"/>
</g>
<path d="M63.1 30.0 H404.85" stroke="#777" stroke-width="1.4" fill="none"/>
<path d="M404.1 30.0 V282.95" stroke="#959595" stroke-width="1.5" fill="none"/>
<path d="M63.75 29.3 V282.95" stroke="#505050" stroke-width="1.3" fill="none"/>
<path d="M63.1 282.45 H404.85" stroke="#333" stroke-width="1.05" fill="none"/>
<g clip-path="url(#d)" fill="none">
<path d="M196.54 123.04 V297.84 M194.54 123.04 h4 M194.54 297.84 h4" stroke="#2f4f4f" stroke-width="1.08" stroke-linecap="butt" fill="none"/><circle cx="196.54" cy="210.44" r="2.1" fill="#2f4f4f"/><path d="M250.77 151.58 V204.88 M248.77 151.58 h4 M248.77 204.88 h4" stroke="#2f4f4f" stroke-width="1.08" stroke-linecap="butt" fill="none"/><circle cx="250.77" cy="178.23" r="2.1" fill="#2f4f4f"/><path d="M275.96 115.77 V145.97 M273.96 115.77 h4 M273.96 145.97 h4" stroke="#2f4f4f" stroke-width="1.08" stroke-linecap="butt" fill="none"/><circle cx="275.96" cy="130.87" r="2.1" fill="#2f4f4f"/><path d="M292.54 156.40 V178.90 M290.54 156.40 h4 M290.54 178.90 h4" stroke="#2f4f4f" stroke-width="1.08" stroke-linecap="butt" fill="none"/><circle cx="292.54" cy="167.65" r="2.1" fill="#2f4f4f"/><path d="M304.93 132.66 V149.26 M302.93 132.66 h4 M302.93 149.26 h4" stroke="#2f4f4f" stroke-width="1.08" stroke-linecap="butt" fill="none"/><circle cx="304.93" cy="140.96" r="2.1" fill="#2f4f4f"/><path d="M314.82 155.65 V168.85 M312.82 155.65 h4 M312.82 168.85 h4" stroke="#2f4f4f" stroke-width="1.08" stroke-linecap="butt" fill="none"/><circle cx="314.82" cy="162.25" r="2.1" fill="#2f4f4f"/><path d="M323.05 139.75 V150.75 M321.05 139.75 h4 M321.05 150.75 h4" stroke="#2f4f4f" stroke-width="1.08" stroke-linecap="butt" fill="none"/><circle cx="323.05" cy="145.25" r="2.1" fill="#2f4f4f"/><path d="M330.10 152.95 V163.35 M328.10 152.95 h4 M328.10 163.35 h4" stroke="#2f4f4f" stroke-width="1.08" stroke-linecap="butt" fill="none"/><circle cx="330.10" cy="158.15" r="2.1" fill="#2f4f4f"/><path d="M336.27 142.46 V151.26 M334.27 142.46 h4 M334.27 151.26 h4" stroke="#2f4f4f" stroke-width="1.08" stroke-linecap="butt" fill="none"/><circle cx="336.27" cy="146.86" r="2.1" fill="#2f4f4f"/><path d="M341.75 153.05 V160.85 M339.75 153.05 h4 M339.75 160.85 h4" stroke="#2f4f4f" stroke-width="1.08" stroke-linecap="butt" fill="none"/><circle cx="341.75" cy="156.95" r="2.1" fill="#2f4f4f"/><path d="M346.68 143.96 V150.95 M344.68 143.96 h4 M344.68 150.95 h4" stroke="#2f4f4f" stroke-width="1.08" stroke-linecap="butt" fill="none"/><circle cx="346.68" cy="147.45" r="2.1" fill="#2f4f4f"/><path d="M351.16 152.80 V159.13 M349.16 152.80 h4 M349.16 159.13 h4" stroke="#2f4f4f" stroke-width="1.08" stroke-linecap="butt" fill="none"/><circle cx="351.16" cy="155.97" r="2.1" fill="#2f4f4f"/><path d="M355.27 145.86 V151.65 M353.27 145.86 h4 M353.27 151.65 h4" stroke="#2f4f4f" stroke-width="1.08" stroke-linecap="butt" fill="none"/><circle cx="355.27" cy="148.76" r="2.1" fill="#2f4f4f"/><path d="M359.06 151.08 V156.40 M357.06 151.08 h4 M357.06 156.40 h4" stroke="#2f4f4f" stroke-width="1.08" stroke-linecap="butt" fill="none"/><circle cx="359.06" cy="153.74" r="2.1" fill="#2f4f4f"/><path d="M362.58 146.80 V151.72 M360.58 146.80 h4 M360.58 151.72 h4" stroke="#2f4f4f" stroke-width="1.08" stroke-linecap="butt" fill="none"/><circle cx="362.58" cy="149.26" r="2.1" fill="#2f4f4f"/><path d="M365.87 150.40 V154.97 M363.87 150.40 h4 M363.87 154.97 h4" stroke="#2f4f4f" stroke-width="1.08" stroke-linecap="butt" fill="none"/><circle cx="365.87" cy="152.69" r="2.1" fill="#2f4f4f"/><path d="M368.95 149.86 V154.26 M366.95 149.86 h4 M366.95 154.26 h4" stroke="#2f4f4f" stroke-width="1.08" stroke-linecap="butt" fill="none"/><circle cx="368.95" cy="152.06" r="2.1" fill="#2f4f4f"/><path d="M371.85 149.86 V154.26 M369.85 149.86 h4 M369.85 154.26 h4" stroke="#2f4f4f" stroke-width="1.08" stroke-linecap="butt" fill="none"/><circle cx="371.85" cy="152.06" r="2.1" fill="#2f4f4f"/><path d="M374.59 149.86 V154.26 M372.59 149.86 h4 M372.59 154.26 h4" stroke="#2f4f4f" stroke-width="1.08" stroke-linecap="butt" fill="none"/><circle cx="374.59" cy="152.06" r="2.1" fill="#2f4f4f"/><path d="M377.18 149.86 V154.26 M375.18 149.86 h4 M375.18 154.26 h4" stroke="#2f4f4f" stroke-width="1.08" stroke-linecap="butt" fill="none"/><circle cx="377.18" cy="152.06" r="2.1" fill="#2f4f4f"/><path d="M379.64 149.86 V154.26 M377.64 149.86 h4 M377.64 154.26 h4" stroke="#2f4f4f" stroke-width="1.08" stroke-linecap="butt" fill="none"/><circle cx="379.64" cy="152.06" r="2.1" fill="#2f4f4f"/><path d="M381.99 149.86 V154.26 M379.99 149.86 h4 M379.99 154.26 h4" stroke="#2f4f4f" stroke-width="1.08" stroke-linecap="butt" fill="none"/><circle cx="381.99" cy="152.06" r="2.1" fill="#2f4f4f"/><path d="M384.23 149.86 V154.26 M382.23 149.86 h4 M382.23 154.26 h4" stroke="#2f4f4f" stroke-width="1.08" stroke-linecap="butt" fill="none"/><circle cx="384.23" cy="152.06" r="2.1" fill="#2f4f4f"/><path d="M386.37 149.86 V154.26 M384.37 149.86 h4 M384.37 154.26 h4" stroke="#2f4f4f" stroke-width="1.08" stroke-linecap="butt" fill="none"/><circle cx="386.37" cy="152.06" r="2.1" fill="#2f4f4f"/><path d="M388.42 149.86 V154.26 M386.42 149.86 h4 M386.42 154.26 h4" stroke="#2f4f4f" stroke-width="1.08" stroke-linecap="butt" fill="none"/><circle cx="388.42" cy="152.06" r="2.1" fill="#2f4f4f"/><path d="M390.40 149.86 V154.26 M388.40 149.86 h4 M388.40 154.26 h4" stroke="#2f4f4f" stroke-width="1.08" stroke-linecap="butt" fill="none"/><circle cx="390.40" cy="152.06" r="2.1" fill="#2f4f4f"/><path d="M392.29 149.86 V154.26 M390.29 149.86 h4 M390.29 154.26 h4" stroke="#2f4f4f" stroke-width="1.08" stroke-linecap="butt" fill="none"/><circle cx="392.29" cy="152.06" r="2.1" fill="#2f4f4f"/><path d="M394.12 149.86 V154.26 M392.12 149.86 h4 M392.12 154.26 h4" stroke="#2f4f4f" stroke-width="1.08" stroke-linecap="butt" fill="none"/><circle cx="394.12" cy="152.06" r="2.1" fill="#2f4f4f"/><path d="M395.87 149.86 V154.26 M393.87 149.86 h4 M393.87 154.26 h4" stroke="#2f4f4f" stroke-width="1.08" stroke-linecap="butt" fill="none"/><circle cx="395.87" cy="152.06" r="2.1" fill="#2f4f4f"/><path d="M397.57 149.86 V154.26 M395.57 149.86 h4 M395.57 154.26 h4" stroke="#2f4f4f" stroke-width="1.08" stroke-linecap="butt" fill="none"/><circle cx="397.57" cy="152.06" r="2.1" fill="#2f4f4f"/><path d="M399.22 149.86 V154.26 M397.22 149.86 h4 M397.22 154.26 h4" stroke="#2f4f4f" stroke-width="1.08" stroke-linecap="butt" fill="none"/><circle cx="399.22" cy="152.06" r="2.1" fill="#2f4f4f"/><path d="M400.81 149.86 V154.26 M398.81 149.86 h4 M398.81 154.26 h4" stroke="#2f4f4f" stroke-width="1.08" stroke-linecap="butt" fill="none"/><circle cx="400.81" cy="152.06" r="2.1" fill="#2f4f4f"/><path d="M402.35 149.86 V154.26 M400.35 149.86 h4 M400.35 154.26 h4" stroke="#2f4f4f" stroke-width="1.08" stroke-linecap="butt" fill="none"/><circle cx="402.35" cy="152.06" r="2.1" fill="#2f4f4f"/><path d="M403.84 149.86 V154.26 M401.84 149.86 h4 M401.84 154.26 h4" stroke="#2f4f4f" stroke-width="1.08" stroke-linecap="butt" fill="none"/><circle cx="403.84" cy="152.06" r="2.1" fill="#2f4f4f"/>
<path d="M63.75 156.5 H404.1" stroke="#111" stroke-width="1"/>
</g>
<path d="M63.75 282.45 v-3.50 M97.90 282.45 v-1.80 M117.88 282.45 v-1.80 M132.05 282.45 v-1.80 M143.05 282.45 v-1.80 M152.03 282.45 v-1.80 M159.63 282.45 v-1.80 M166.21 282.45 v-1.80 M172.01 282.45 v-1.80 M177.20 282.45 v-3.50 M211.35 282.45 v-1.80 M231.33 282.45 v-1.80 M245.50 282.45 v-1.80 M256.50 282.45 v-1.80 M265.48 282.45 v-1.80 M273.08 282.45 v-1.80 M279.66 282.45 v-1.80 M285.46 282.45 v-1.80 M290.65 282.45 v-3.50 M324.80 282.45 v-1.80 M344.78 282.45 v-1.80 M358.95 282.45 v-1.80 M369.95 282.45 v-1.80 M378.93 282.45 v-1.80 M386.53 282.45 v-1.80 M393.11 282.45 v-1.80 M398.91 282.45 v-1.80 M404.10 282.45 v-3.50 M63.75 282.45 h3.5 M63.75 240.38 h3.5 M63.75 198.30 h3.5 M63.75 156.23 h3.5 M63.75 114.15 h3.5 M63.75 72.08 h3.5 M63.75 30.00 h3.5" stroke="#333" stroke-width="0.8" fill="none"/>
<g font-size="14.7" fill="#111"><text x="58.8" y="287.45" text-anchor="end">0.4</text><text x="58.8" y="245.38" text-anchor="end">0.6</text><text x="58.8" y="203.30" text-anchor="end">0.8</text><text x="57.8" y="161.23" text-anchor="end">1</text><text x="58.8" y="119.15" text-anchor="end">1.2</text><text x="58.8" y="77.08" text-anchor="end">1.4</text><text x="58.8" y="35.00" text-anchor="end">1.6</text><text x="64.85" y="295.6" text-anchor="middle" font-size="14.4">0.0001</text><text x="178.30" y="295.6" text-anchor="middle" font-size="14.4">0.001</text><text x="291.75" y="295.6" text-anchor="middle" font-size="14.4">0.01</text><text x="405.20" y="295.6" text-anchor="middle" font-size="14.4">0.1</text></g>
<g font-size="14" fill="#111">
<text x="201.5" y="308.8" font-size="14.2"><tspan font-style="italic">k</tspan> (h Mpc)<tspan dx="1.1" dy="-6.0" font-size="9.8">-1</tspan></text>
<text transform="translate(27.3 198.2) rotate(-90)">Ratio of <tspan font-style="italic">P</tspan><tspan dy="4.5" font-size="10.6">M</tspan><tspan dy="-4.5">(</tspan><tspan font-style="italic">k</tspan>)</text>
</g>
<g font-size="12" text-anchor="end">
<text x="389.2" y="45.5" fill="#ff0000" textLength="235.6" lengthAdjust="spacing">P<tspan dy="3.7" font-size="9.3">M</tspan><tspan dy="-3.7"> (Wiggly Whipped first order)/P</tspan><tspan dy="3.7" font-size="9.3">M</tspan><tspan dy="-3.7"> (Power law)</tspan></text>
<text x="389.2" y="63.9" fill="#0433ff" textLength="235.6" lengthAdjust="spacing">P<tspan dy="3.7" font-size="9.3">M</tspan><tspan dy="-3.7"> (Wiggly Whipped first order)/P</tspan><tspan dy="3.7" font-size="9.3">M</tspan><tspan dy="-3.7"> (Power law)</tspan></text>
<text x="389.2" y="82.5" fill="#006400" textLength="249.5" lengthAdjust="spacing">P<tspan dy="3.7" font-size="9.3">M</tspan><tspan dy="-3.7"> (Wiggly Whipped second order)/P</tspan><tspan dy="3.7" font-size="9.3">M</tspan><tspan dy="-3.7"> (Power law)</tspan></text>
<text x="388" y="102.3" fill="#2f4f4f" textLength="76.4" lengthAdjust="spacing">DESI sensitivity</text>
</g>
<circle cx="394.2" cy="98.6" r="2.0" fill="#2f4f4f"/>
</svg>
</body></html>
